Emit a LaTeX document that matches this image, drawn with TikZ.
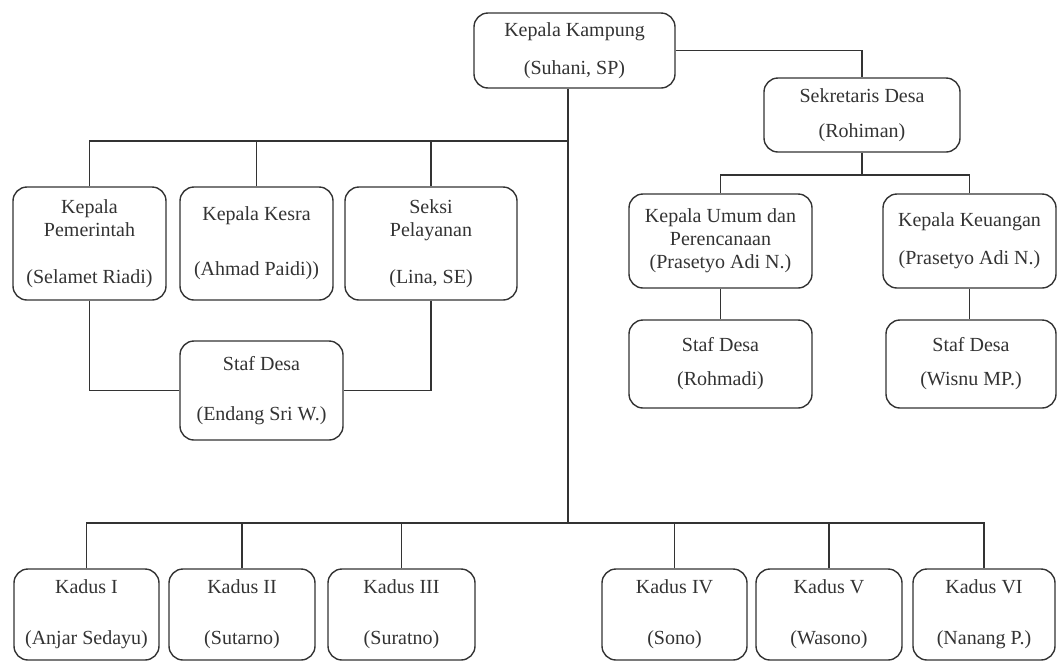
\documentclass[tikz,border=0pt]{standalone}
\usepackage{fontspec}
\setmainfont{Liberation Serif}
\usepackage{tikz}
\usetikzlibrary{positioning}
\tikzset{
    unit/.style = {rectangle, rounded corners=14pt, line width=1.4pt, draw=black!80, align=center, inner sep=0pt, text=black!80, font=\fontsize{20}{23}\selectfont},
    kadus/.style = {unit, minimum height=91pt},
    link/.style = {line width=1.4pt, draw=black!80}
}

\begin{document}
\begin{tikzpicture}[x=1pt,y=-1pt]
%
\path[use as bounding box] (0,0) rectangle (1057,662);
%
\node[unit,minimum width=201pt,minimum height=75pt] at (574.5,50.5) (kk) {Kepala Kampung\\[15pt](Suhani, SP)};
\node[unit,minimum width=196pt,minimum height=74pt] at (862,115) (sek) {Sekretaris Desa\\[12pt](Rohiman)};
%
\node[unit,minimum width=153pt,minimum height=113pt] at (89.5,243.5) (kp) {Kepala\\Pemerintah\\[24pt](Selamet Riadi)};
\node[unit,minimum width=153pt,minimum height=113pt] at (256.5,243.5) (kesra) {Kepala Kesra\\[32pt](Ahmad Paidi))};
\node[unit,minimum width=172pt,minimum height=113pt] at (431,243.5) (seksi) {Seksi\\Pelayanan\\[24pt](Lina, SE)};
\node[unit,minimum width=163pt,minimum height=99pt] at (261.5,390.5) (staf1) {Staf Desa\\[27pt](Endang Sri W.)};
%
\node[unit,minimum width=183pt,minimum height=94pt] at (720.5,241) (umum) {Kepala Umum dan\\Perencanaan\\(Prasetyo Adi N.)};
\node[unit,minimum width=173pt,minimum height=94pt] at (969.5,241) (uang) {Kepala Keuangan\\[15pt](Prasetyo Adi N.)};
\node[unit,minimum width=183pt,minimum height=88pt] at (720.5,364) (staf2) {Staf Desa\\[11pt](Rohmadi)};
\node[unit,minimum width=170pt,minimum height=88pt] at (971,364) (staf3) {Staf Desa\\[11pt](Wisnu MP.)};
%
\node[kadus,minimum width=145pt] at (86.5,614.5) (k1) {Kadus I\\[28pt](Anjar Sedayu)};
\node[kadus,minimum width=146pt] at (242,614.5) (k2) {Kadus II\\[28pt](Sutarno)};
\node[kadus,minimum width=147pt] at (401.5,614.5) (k3) {Kadus III\\[28pt](Suratno)};
\node[kadus,minimum width=145pt] at (674.5,614.5) (k4) {Kadus IV\\[28pt](Sono)};
\node[kadus,minimum width=146pt] at (829,614.5) (k5) {Kadus V\\[28pt](Wasono)};
\node[kadus,minimum width=142pt] at (984,614.5) (k6) {Kadus VI\\[28pt](Nanang P.)};
%
\coordinate (top) at (568,141);
\coordinate (bottom) at (568,523);
\coordinate (right) at (862,175);
%
\draw[link] (kk.south -| bottom) -- (bottom);
\draw[link] (kk.east) -| (sek.north);
\draw[link] (kp.north) |- (top);
\draw[link] (kesra.north) -- (kesra.north |- top);
\draw[link] (seksi.north) -- (seksi.north |- top);
\draw[link] (kp.south) |- (staf1.west);
\draw[link] (seksi.south) |- (staf1.east);
%
\draw[link] (sek.south) -- (right);
\draw[link] (umum.north) |- (right);
\draw[link] (uang.north) |- (right);
\draw[link] (umum.south) -- (staf2.north);
\draw[link] (uang.south) -- (uang.south |- staf3.north);
%
\draw[link] (k1.north) |- (bottom);
\draw[link] (k6.north) |- (bottom);
\foreach \k in {k2,k3,k4,k5}
    \draw[link] (\k.north) -- (\k.north |- bottom);

\end{tikzpicture}
\end{document}
